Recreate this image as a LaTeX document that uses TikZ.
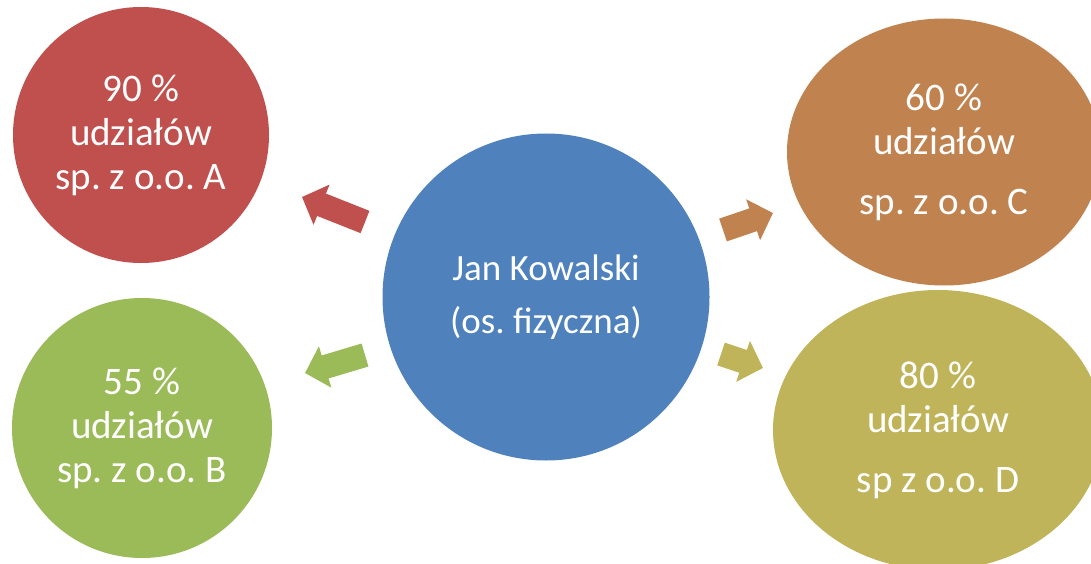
\documentclass[tikz,border=0pt]{standalone}
\usepackage{fontspec}
\setmainfont{Carlito}
\usetikzlibrary{shapes.geometric,arrows.meta}
\frenchspacing

\definecolor{janblue}{HTML}{4F81BD}
\definecolor{spared}{HTML}{C0504D}
\definecolor{spagreen}{HTML}{9BBB59}
\definecolor{sporange}{HTML}{C08350}
\definecolor{spolive}{HTML}{C0B45A}

\tikzset{
  owner/.style={ellipse, fill=#1, text=white, inner sep=0pt, align=center,
                font=\fontsize{39}{44}\selectfont},
  share/.style={line width=24pt, draw=#1, -{Triangle[width=42pt,length=21pt]}},
}

\begin{document}
\begin{tikzpicture}[x=1pt,y=-1pt]
     \useasboundingbox (0,0) rectangle (1091,564);
     \clip (0,0) rectangle (1091,564);

     \node[owner=janblue, minimum width=327pt, minimum height=327pt,
           font=\fontsize{37}{44}\selectfont] (jan) at (546,297)
          {Jan Kowalski\\[9pt](os. fizyczna)};
     \node[owner=spared, minimum width=256pt, minimum height=256pt] (spA) at (141,135)
          {90 \%\\udziałów\\sp. z o.o. A};
     \node[owner=spagreen, minimum width=260pt, minimum height=260pt] (spB) at (142,428)
          {55 \%\\udziałów\\sp. z o.o. B};
     \node[owner=sporange, minimum width=314pt, minimum height=267pt] (spC) at (944,152)
          {60 \%\\udziałów\\[16pt]sp. z o.o. C};
     \node[owner=spolive, minimum width=330pt, minimum height=280pt] (spD) at (938,430)
          {80 \%\\udziałów\\[16pt]sp z o.o. D};

     \coordinate (tailA) at (365,222);
     \coordinate (tipA)  at (302,197);
     \coordinate (tailB) at (365,355);
     \coordinate (tipB)  at (305,373);
     \coordinate (tailC) at (723,230);
     \coordinate (tipC)  at (773,213);
     \coordinate (tailD) at (721,354);
     \coordinate (tipD)  at (763,368);

     \draw [share=spared]   (tailA) -- (tipA);
     \draw [share=spagreen] (tailB) -- (tipB);
     \draw [share=sporange] (tailC) -- (tipC);
     \draw [share=spolive]  (tailD) -- (tipD);

  \end{tikzpicture}
\end{document}
